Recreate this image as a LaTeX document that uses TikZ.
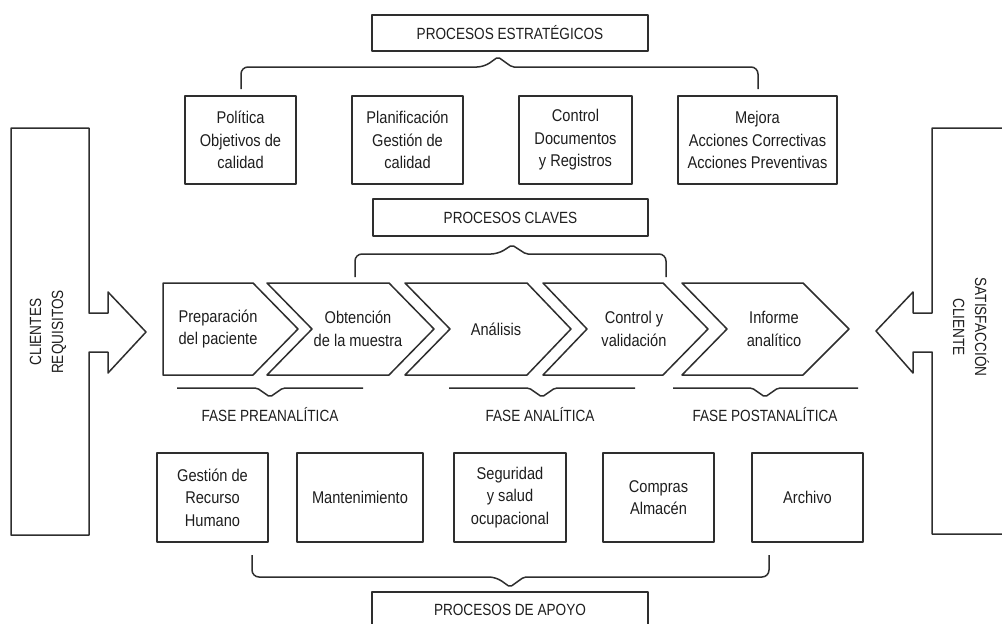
\documentclass[tikz,border=0pt]{standalone}
\usepackage{fontspec}
\setmainfont{Liberation Sans}[FakeStretch=0.86]
\newfontfamily\capsfont{Liberation Sans}[FakeStretch=0.84]
\definecolor{lc}{HTML}{2E2E2E}
\definecolor{tc}{HTML}{1E1E1E}
\newcommand{\bodyfnt}{\fontsize{17}{22.5}\selectfont}
\newcommand{\capsfnt}{\capsfont\fontsize{16.2}{22}\selectfont}
\begin{document}
\begin{tikzpicture}[x=1pt,y=-1pt,
  ln/.style={draw=lc, line width=1.5pt, line join=round},
  box/.style={ln, fill=white, inner sep=0pt, align=center, font=\bodyfnt, text=tc},
  tbox/.style={ln, fill=white, inner sep=0pt, align=center, font=\capsfnt, text=tc, minimum width=276, minimum height=36},
  lbl/.style={inner sep=0pt, align=center, font=\bodyfnt, text=tc},
  clbl/.style={inner sep=0pt, align=center, font=\capsfnt, text=tc},
  brace/.style={ln, rounded corners=7}
]
\useasboundingbox (0,0) rectangle (1002,624);
\clip (0,0) rectangle (1002,624);
\fill[white] (0,0) rectangle (1002,624);

% side shapes
\draw[ln] (11,128) -- (89,128) -- (89,313) -- (108,313) -- (108,292) -- (146,332) -- (108,373) -- (108,352) -- (89,352) -- (89,535) -- (11,535) -- cycle;
\node[clbl, rotate=90] (cli) at (48,332) {CLIENTES\\REQUISITOS};
\draw[ln] (1012,128) -- (932,128) -- (932,313) -- (913,313) -- (913,292) -- (876,331) -- (913,373) -- (913,352) -- (932,352) -- (932,534) -- (1012,534);
\node[clbl, rotate=-90] (sat) at (971,327) {SATISFACCIÓN\\CLIENTE};

% strategic
\node[tbox] (est) at (510,33) {PROCESOS ESTRATÉGICOS};
\draw[brace] (241,89) -- (241,67) -- (484,67) [rounded corners=2] -- (498,57) -- (512,67) [rounded corners=7] -- (758,67) -- (758,89);
\node[box, minimum width=111, minimum height=88] (pol) at (240.5,140) {Política\\Objetivos de\\calidad};
\node[box, minimum width=111, minimum height=88] (pla) at (407.5,140) {Planificación\\Gestión de\\calidad};
\node[box, minimum width=113, minimum height=88] (ctl) at (575.5,140) {Control\\Documentos\\y Registros};
\node[box, minimum width=159, minimum height=88] (mej) at (757.5,140) {Mejora\\Acciones Correctivas\\Acciones Preventivas};

% key
\node[tbox, minimum width=275, minimum height=37] (cla) at (510.5,217.5) {PROCESOS CLAVES};
\draw[brace] (355,277) -- (355,254) -- (498,254) [rounded corners=2] -- (512,245) -- (526,254) [rounded corners=7] -- (666,254) -- (666,277);

% chevrons
\draw[ln] (163,283) -- (253,283) -- (298,329) -- (253,375) -- (163,375) -- cycle;
\draw[ln] (267,283) -- (389,283) -- (434,329) -- (389,375) -- (267,375) -- (312,329) -- cycle;
\draw[ln] (405,283) -- (527,283) -- (571,329) -- (527,375) -- (405,375) -- (450,329) -- cycle;
\draw[ln] (543,283) -- (663,283) -- (708,329) -- (663,375) -- (543,375) -- (587,329) -- cycle;
\draw[ln] (682,283) -- (803,283) -- (849,329) -- (803,375) -- (682,375) -- (727,329) -- cycle;
\node[lbl] (c1) at (218,329) {Preparación\\del paciente};
\node[lbl] (c2) at (358,329) {Obtención\\de la muestra};
\node[lbl] (c3) at (496,329) {Análisis};
\node[lbl] (c4) at (634,329) {Control y\\validación};
\node[lbl] (c5) at (774,329) {Informe\\analítico};

% phases
\draw[ln, rounded corners=2] (177,388) -- (257,388) -- (270,397) -- (283,388) -- (363,388);
\draw[ln, rounded corners=2] (449,388) -- (529,388) -- (542,397) -- (555,388) -- (635,388);
\draw[ln, rounded corners=2] (673,388) -- (752,388) -- (765,397) -- (778,388) -- (858,388);
\node[clbl] (f1) at (270,415) {FASE PREANALÍTICA};
\node[clbl] (f2) at (540,415) {FASE ANALÍTICA};
\node[clbl] (f3) at (765,415) {FASE POSTANALÍTICA};

% support
\node[box, minimum width=111, minimum height=89] (ges) at (212.5,497.5) {Gestión de\\Recurso\\Humano};
\node[box, minimum width=126, minimum height=89] (man) at (360,497.5) {Mantenimiento};
\node[box, minimum width=112, minimum height=89] (seg) at (510,497.5) {Seguridad\\y salud\\ocupacional};
\node[box, minimum width=111, minimum height=89] (com) at (658.5,497.5) {Compras\\Almacén};
\node[box, minimum width=111, minimum height=89] (arc) at (807.5,497.5) {Archivo};
\draw[brace] (252,555) -- (252,577) -- (496,577) [rounded corners=2] -- (510,587) -- (524,577) [rounded corners=7] -- (769,577) -- (769,555);
\node[tbox] (apo) at (510,610) {PROCESOS DE APOYO};
\end{tikzpicture}
\end{document}
